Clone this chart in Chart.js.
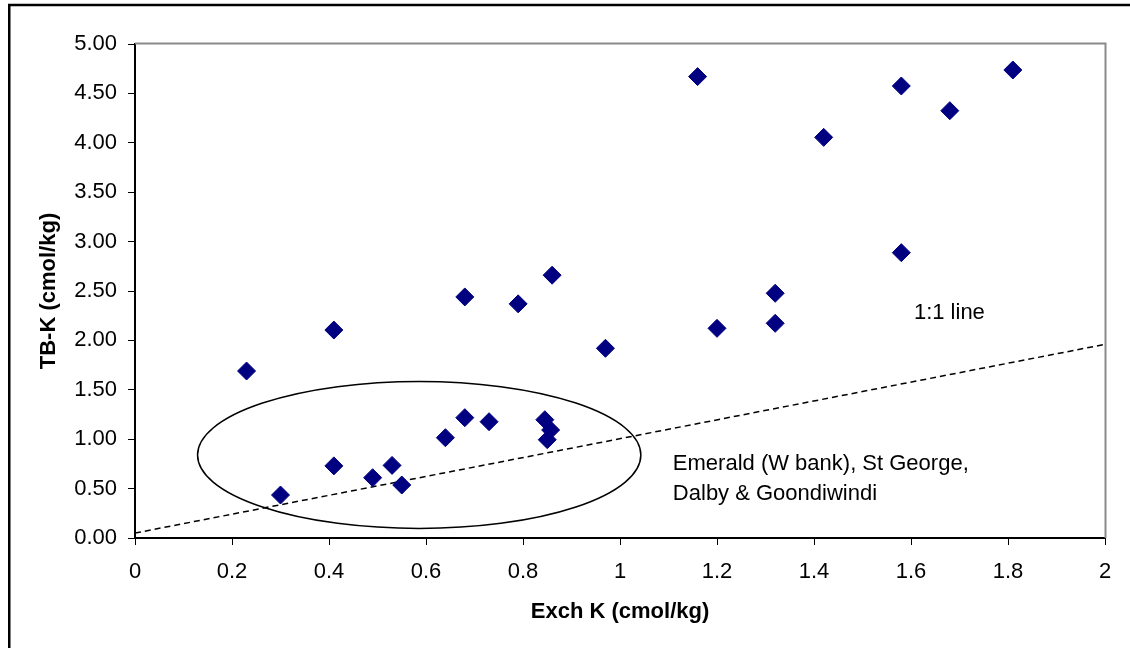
<!DOCTYPE html>
<html>
<head>
<meta charset="utf-8">
<title>TB-K vs Exch K</title>
<script src="https://cdn.jsdelivr.net/npm/chart.js@4.4.1/dist/chart.umd.min.js"></script>
<style>
  html, body { margin: 0; padding: 0; background: #fff; }
  #wrap { width: 1130px; height: 648px; }
</style>
</head>
<body>
<div id="wrap"><canvas id="myChart" width="1130" height="648"></canvas></div>
<script>
// Points (Exch K, TB-K)
const exchK = [0.23, 0.30, 0.41, 0.41, 0.49, 0.53, 0.55, 0.64, 0.68, 0.68, 0.73, 0.79, 0.845,
  0.85, 0.857, 0.86, 0.97, 1.16, 1.20, 1.32, 1.32, 1.42, 1.58, 1.58, 1.68, 1.81];
const tbK = [1.69, 0.435, 2.105, 0.73, 0.61, 0.735, 0.536, 1.015, 2.44, 1.218, 1.177, 2.37, 1.197,
  0.995, 1.093, 2.66, 1.92, 4.67, 2.122, 2.477, 2.173, 4.055, 4.575, 2.888, 4.325, 4.737];

// dashed "1:1 line" end points
const refLineX = [0, 2];
const refLineY = [0.05, 1.96];

// axis ticks
const xTicks = [0, 0.2, 0.4, 0.6, 0.8, 1, 1.2, 1.4, 1.6, 1.8, 2];
const xTickLabels = ['0', '0.2', '0.4', '0.6', '0.8', '1', '1.2', '1.4', '1.6', '1.8', '2'];
const yTicks = [0, 0.5, 1, 1.5, 2, 2.5, 3, 3.5, 4, 4.5, 5];
const yTickLabels = ['0.00', '0.50', '1.00', '1.50', '2.00', '2.50', '3.00', '3.50', '4.00', '4.50', '5.00'];

// ellipse round the cluster, in axis units
const cluster = { cx: 0.586, cy: 0.84, rx: 0.457, ry: 0.744 };
// text notes, anchored in axis units
const notes = [
  { text: '1:1 line', x: 1.606, y: 2.28 },
  { text: 'Emerald (W bank), St George,', x: 1.109, y: 0.749 },
  { text: 'Dalby & Goondiwindi', x: 1.109, y: 0.445 }
];

const FONT = '"Liberation Sans", Arial, sans-serif';
Chart.defaults.font.family = FONT;
Chart.defaults.color = '#000';

const extras = {
  id: 'extras',
  afterDatasetsDraw(chart) {
    const { ctx, chartArea: a, scales: { x, y } } = chart;
    ctx.save();
    // ellipse
    const cx = x.getPixelForValue(cluster.cx);
    const cy = y.getPixelForValue(cluster.cy);
    const rx = x.getPixelForValue(cluster.cx + cluster.rx) - cx;
    const ry = cy - y.getPixelForValue(cluster.cy + cluster.ry);
    ctx.beginPath();
    ctx.ellipse(cx, cy, rx, ry, 0, 0, Math.PI * 2);
    ctx.lineWidth = 1.5;
    ctx.strokeStyle = '#000';
    ctx.stroke();
    // notes
    ctx.font = '22px ' + FONT;
    ctx.fillStyle = '#000';
    ctx.textAlign = 'left';
    ctx.textBaseline = 'middle';
    notes.forEach(n => ctx.fillText(n.text, x.getPixelForValue(n.x), y.getPixelForValue(n.y)));
    // grey frame on top and right of plot area
    ctx.beginPath();
    ctx.moveTo(a.left, a.top - 0.5);
    ctx.lineTo(a.right + 0.5, a.top - 0.5);
    ctx.lineTo(a.right + 0.5, a.bottom);
    ctx.lineWidth = 2;
    ctx.strokeStyle = '#8a8a8a';
    ctx.stroke();
    ctx.restore();
  },
  afterDraw(chart) {
    const ctx = chart.ctx;
    ctx.save();
    // outer black frame (right and bottom fall off the picture)
    ctx.beginPath();
    ctx.moveTo(9.25, 648);
    ctx.lineTo(9.25, 5);
    ctx.lineTo(1130, 5);
    ctx.lineWidth = 2.5;
    ctx.strokeStyle = '#000';
    ctx.stroke();
    ctx.restore();
  }
};

const ctx = document.getElementById('myChart');
const myChart = new Chart(ctx, {
  type: 'scatter',
  data: {
    datasets: [
      {
        label: 'TB-K',
        data: exchK.map((v, i) => ({ x: v, y: tbK[i] })),
        pointStyle: 'rectRot',
        pointRadius: 9,
        pointBackgroundColor: '#000080',
        pointBorderColor: '#000080',
        pointBorderWidth: 1
      },
      {
        label: '1:1 line',
        data: refLineX.map((v, i) => ({ x: v, y: refLineY[i] })),
        showLine: true,
        borderColor: '#000',
        borderWidth: 1.5,
        borderDash: [6, 4],
        pointRadius: 0
      }
    ]
  },
  options: {
    responsive: false,
    animation: false,
    devicePixelRatio: 1,
    layout: { padding: { top: 44, right: 25, left: 0, bottom: 0 } },
    plugins: { legend: { display: false }, tooltip: { enabled: false } },
    scales: {
      x: {
        type: 'linear',
        position: 'bottom',
        min: 0,
        max: 2,
        afterFit(s) { s.height = 110; },
        afterBuildTicks(s) { s.ticks = xTicks.map(v => ({ value: v })); },
        border: { color: '#000', width: 2 },
        grid: { drawOnChartArea: false, drawTicks: true, tickLength: 7, color: '#000', lineWidth: 1 },
        ticks: {
          padding: 13.8,
          autoSkip: false,
          maxRotation: 0,
          font: { size: 22 },
          color: '#000',
          callback: (v, i) => xTickLabels[i]
        },
        title: {
          display: true,
          text: 'Exch K (cmol/kg)',
          font: { size: 22, weight: 'bold' },
          color: '#000',
          // bottom axis titles are pushed up by the bottom padding
          padding: { top: 0, bottom: 22.8 }
        }
      },
      y: {
        type: 'linear',
        min: 0,
        max: 5,
        afterFit(s) { s.width = 135; },
        afterBuildTicks(s) { s.ticks = yTicks.map(v => ({ value: v })); },
        border: { color: '#000', width: 2 },
        grid: { drawOnChartArea: false, drawTicks: true, tickLength: 7, color: '#000', lineWidth: 1 },
        ticks: {
          padding: 11,
          autoSkip: false,
          font: { size: 22 },
          color: '#000',
          callback: (v, i) => yTickLabels[i]
        },
        title: {
          display: true,
          text: 'TB-K (cmol/kg)',
          font: { size: 22, weight: 'bold' },
          color: '#000',
          padding: { top: 35.3, bottom: 0 }
        }
      }
    }
  },
  plugins: [extras]
});
</script>
</body>
</html>
